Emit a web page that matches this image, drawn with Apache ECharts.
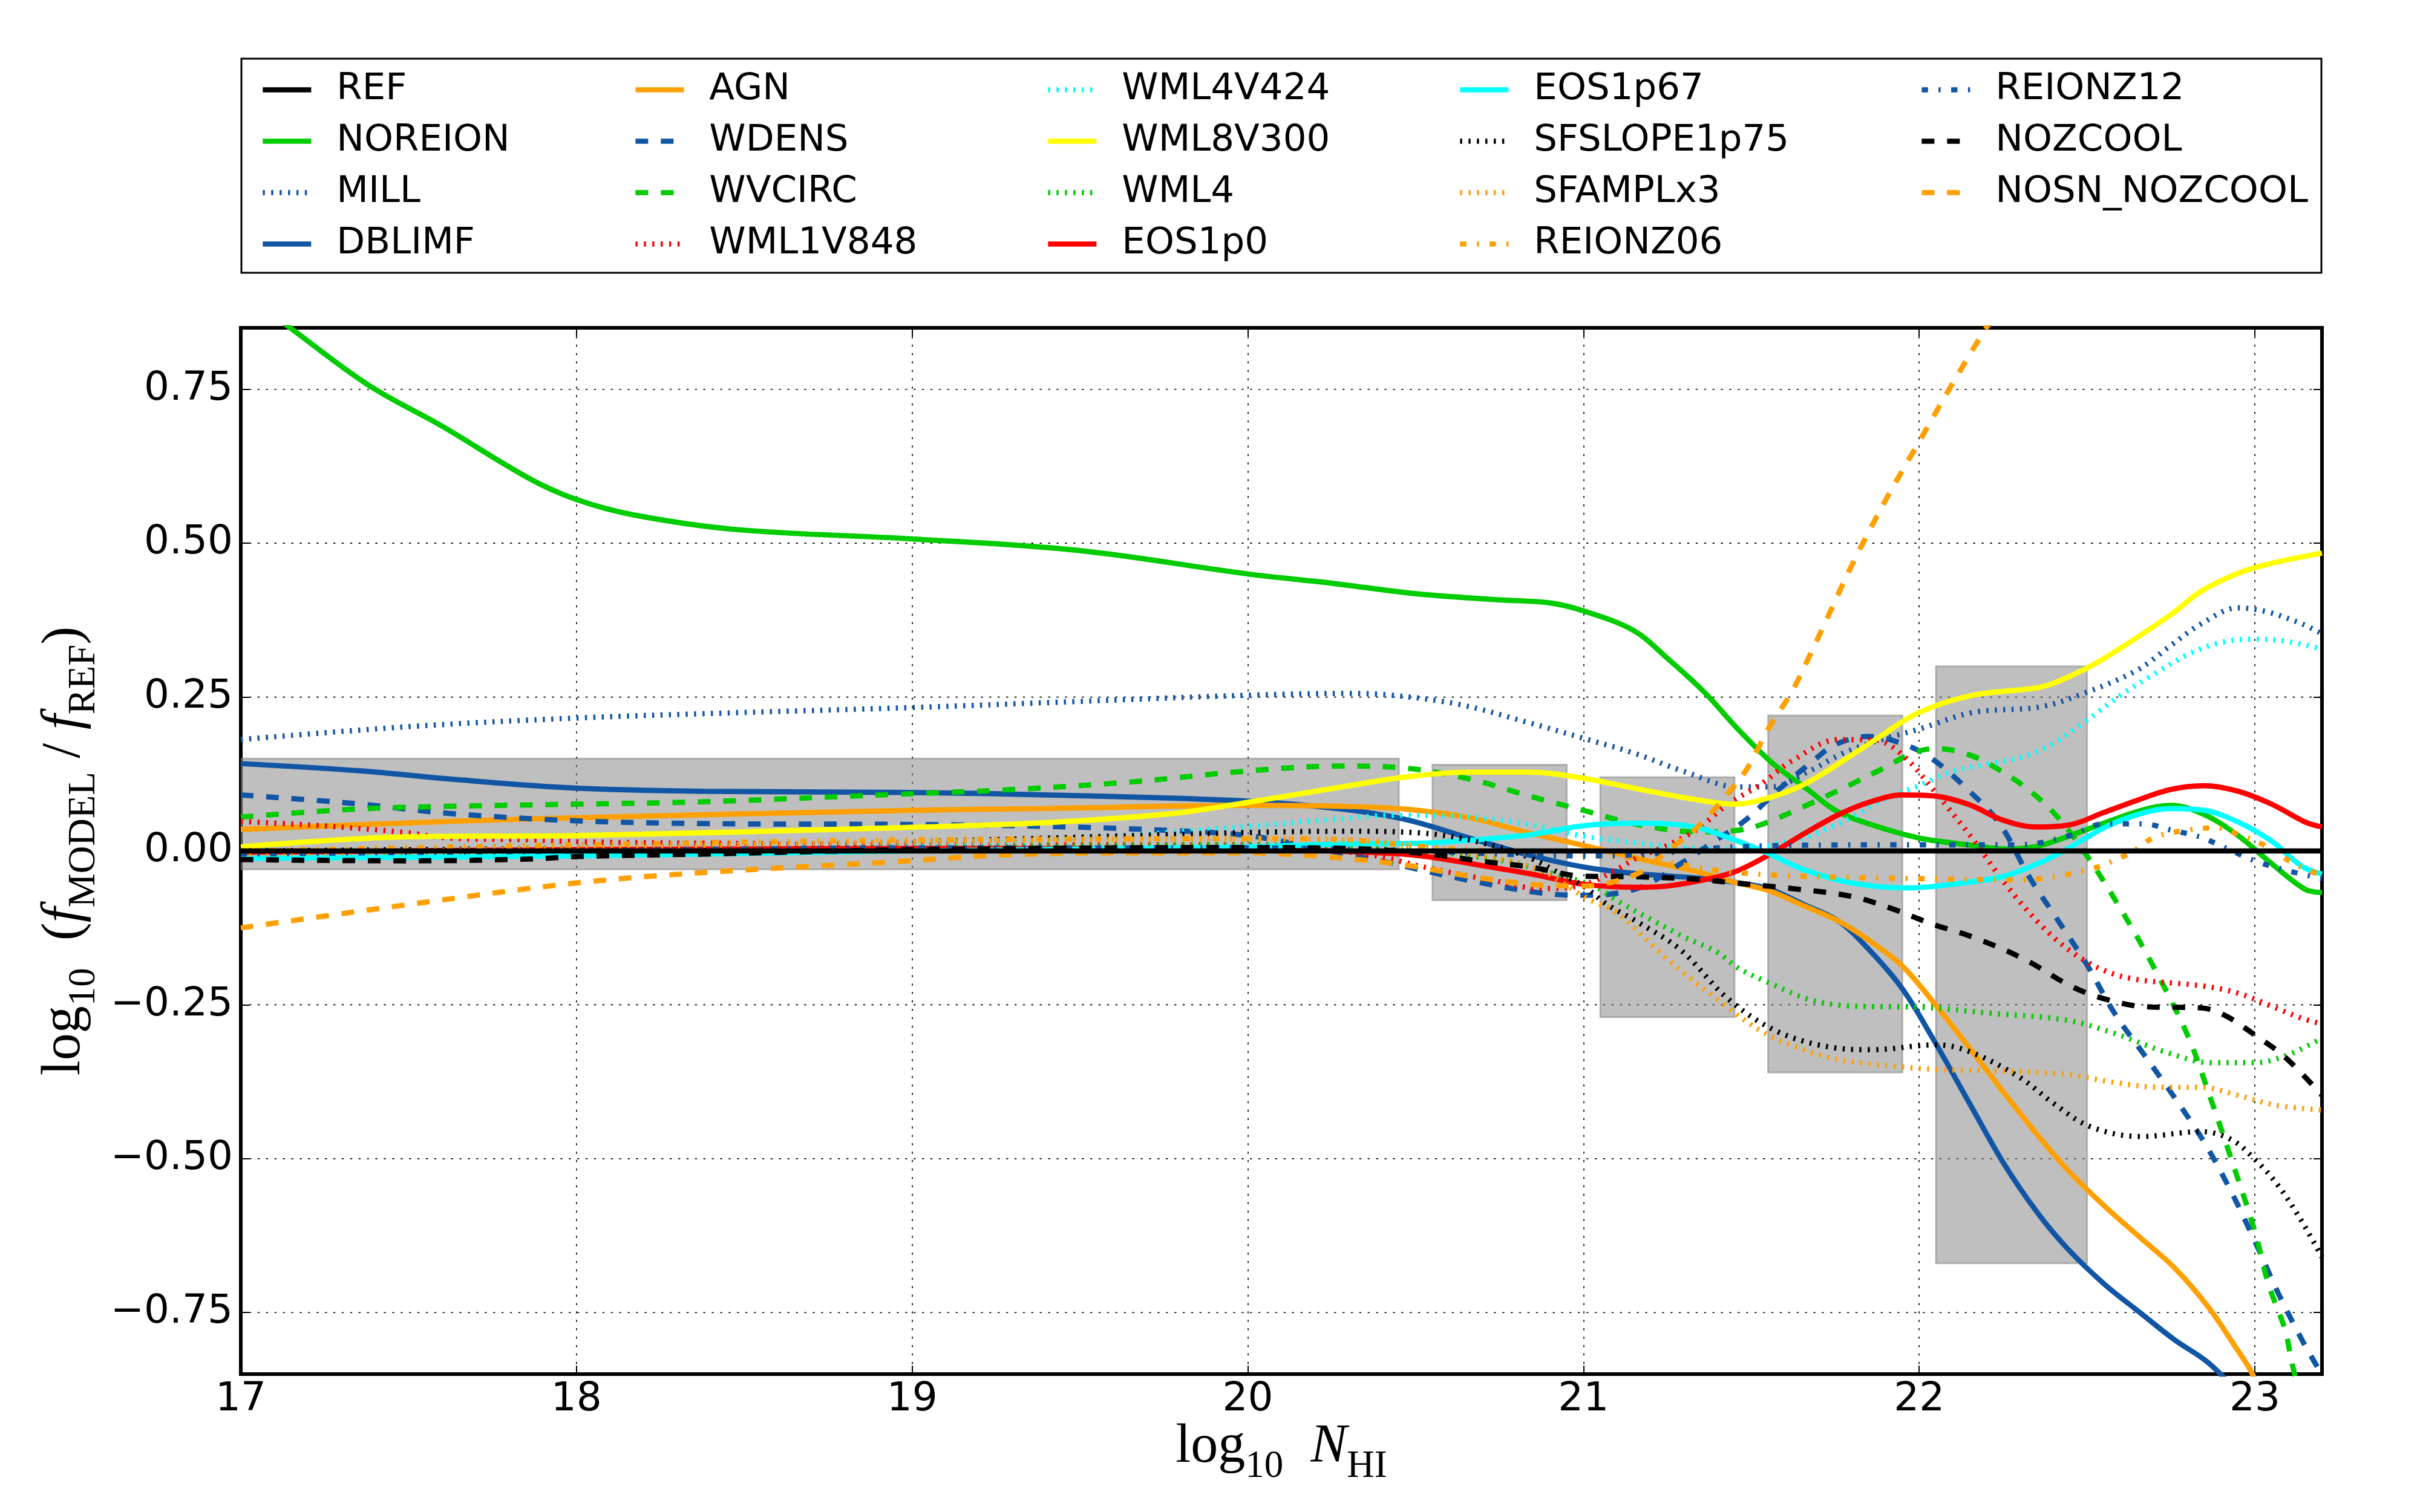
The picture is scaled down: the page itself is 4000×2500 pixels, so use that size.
<!DOCTYPE html>
<html>
<head>
<meta charset="utf-8">
<title>log10 f_MODEL / f_REF</title>
<script src="https://cdn.jsdelivr.net/npm/echarts@6.0.0/dist/echarts.min.js"></script>
<style>html,body{margin:0;background:#fff;}</style>
</head>
<body>
<div id="main" style="width:4000px;height:2500px;"></div>
<script>
// ---- data: [log10 N_HI, log10 f_MODEL/f_REF] ----
var xTicks = [17, 18, 19, 20, 21, 22, 23];
var yTicks = [-0.75, -0.5, -0.25, 0, 0.25, 0.5, 0.75];

// shaded boxes
var boxX0 = [17, 20.55, 21.05, 21.55, 22.05];
var boxX1 = [20.45, 20.95, 21.45, 21.95, 22.5];
var boxLo = [-0.03, -0.08, -0.27, -0.36, -0.67];
var boxHi = [0.15, 0.14, 0.12, 0.22, 0.30];

var REF = [[17, 0], [23.2, 0]];
var NOREION = [[17,0.91],[17.14,0.853],[17.38,0.757],[17.6,0.69],[17.86,0.605],[18,0.571],[18.17,0.546],[18.48,0.522],[19,0.507],[19.5,0.488],[20,0.45],[20.25,0.435],[20.5,0.418],[20.75,0.408],[20.9,0.403],[21,0.39],[21.15,0.358],[21.25,0.313],[21.36,0.258],[21.46,0.198],[21.56,0.144],[21.67,0.099],[21.75,0.066],[21.85,0.044],[22,0.021],[22.16,0.009],[22.26,0.003],[22.35,0.0075],[22.45,0.025],[22.65,0.064],[22.75,0.074],[22.85,0.059],[22.95,0.025],[23.04,-0.016],[23.15,-0.0625],[23.2,-0.0675]];
var MILL = [[17,0.181],[17.5,0.202],[18,0.216],[18.5,0.225],[19,0.233],[19.5,0.243],[20,0.253],[20.3,0.256],[20.43,0.253],[20.63,0.238],[20.84,0.208],[21,0.183],[21.15,0.159],[21.3,0.129],[21.46,0.104],[21.56,0.104],[21.67,0.129],[21.77,0.158],[21.87,0.178],[22,0.198],[22.16,0.225],[22.36,0.234],[22.49,0.256],[22.65,0.294],[22.75,0.334],[22.84,0.369],[22.95,0.395],[23.04,0.388],[23.14,0.369],[23.2,0.353]];
var DBLIMF = [[17,0.142],[17.36,0.13],[17.62,0.117],[18,0.102],[18.38,0.097],[19,0.095],[19.4,0.091],[20,0.081],[20.28,0.068],[20.47,0.051],[20.66,0.021],[20.84,-0.007],[21,-0.026],[21.16,-0.037],[21.34,-0.044],[21.45,-0.051],[21.55,-0.061],[21.66,-0.088],[21.76,-0.114],[21.85,-0.16],[21.95,-0.224],[22.04,-0.304],[22.15,-0.41],[22.25,-0.506],[22.35,-0.586],[22.44,-0.645],[22.55,-0.703],[22.66,-0.751],[22.76,-0.794],[22.86,-0.831],[22.95,-0.88]];
var AGN = [[17,0.035],[17.62,0.048],[18,0.054],[19,0.066],[19.4,0.069],[20,0.074],[20.28,0.0725],[20.47,0.068],[20.66,0.054],[20.84,0.029],[21,0.009],[21.16,-0.012],[21.34,-0.034],[21.45,-0.051],[21.55,-0.064],[21.66,-0.09],[21.76,-0.114],[21.85,-0.145],[21.95,-0.187],[22.05,-0.251],[22.15,-0.32],[22.24,-0.384],[22.34,-0.453],[22.44,-0.517],[22.55,-0.576],[22.66,-0.629],[22.76,-0.677],[22.86,-0.74],[22.94,-0.804],[22.99,-0.847],[23.05,-0.92]];
var WDENS = [[17,0.091],[17.34,0.077],[17.62,0.061],[18,0.049],[18.38,0.0445],[19,0.043],[19.4,0.04],[19.78,0.033],[20,0.025],[20.2,0.005],[20.41,-0.018],[20.66,-0.048],[20.87,-0.068],[21,-0.072],[21.16,-0.061],[21.3,-0.017],[21.39,0.016],[21.48,0.049],[21.58,0.099],[21.69,0.149],[21.75,0.173],[21.85,0.186],[21.93,0.178],[22.03,0.153],[22.15,0.097],[22.24,0.044],[22.33,-0.044],[22.41,-0.11],[22.5,-0.185],[22.58,-0.262],[22.67,-0.331],[22.76,-0.4],[22.85,-0.474],[22.93,-0.554],[23,-0.634],[23.07,-0.719],[23.14,-0.794],[23.19,-0.842],[23.25,-0.9]];
var WVCIRC = [[17,0.055],[17.34,0.068],[17.62,0.0725],[18,0.076],[18.38,0.08],[18.95,0.092],[19.27,0.099],[19.65,0.112],[20,0.13],[20.27,0.138],[20.46,0.135],[20.66,0.117],[20.84,0.089],[21,0.066],[21.16,0.043],[21.34,0.031],[21.45,0.033],[21.53,0.043],[21.66,0.073],[21.8,0.109],[21.87,0.128],[22,0.1625],[22.06,0.166],[22.15,0.156],[22.22,0.1375],[22.31,0.106],[22.4,0.0625],[22.49,0],[22.6,-0.094],[22.7,-0.19],[22.8,-0.3],[22.87,-0.405],[22.94,-0.517],[23,-0.618],[23.04,-0.703],[23.09,-0.778],[23.11,-0.831],[23.15,-0.92]];
var WML1V848 = [[17,0.048],[17.24,0.041],[17.49,0.03],[17.62,0.021],[17.87,0.018],[18,0.015],[18.5,0.012],[19,0.01],[19.5,0.01],[20,0.01],[20.35,-0.005],[20.54,-0.028],[20.73,-0.048],[20.87,-0.061],[21,-0.055],[21.1,-0.03],[21.16,-0.011],[21.25,0.009],[21.34,0.036],[21.43,0.076],[21.53,0.109],[21.62,0.146],[21.76,0.181],[21.87,0.18],[21.95,0.156],[22.05,0.094],[22.16,0.019],[22.26,-0.056],[22.36,-0.119],[22.45,-0.1625],[22.55,-0.194],[22.65,-0.209],[22.84,-0.219],[22.95,-0.231],[23.04,-0.25],[23.14,-0.272],[23.2,-0.281]];
var WML4V424 = [[17,-0.01],[18,0],[19,0.01],[19.5,0.02],[20,0.04],[20.25,0.051],[20.45,0.058],[20.6,0.057],[20.7,0.053],[20.84,0.043],[21,0.024],[21.16,0.013],[21.34,0.004],[21.45,0.003],[21.62,0.016],[21.7,0.03],[21.8,0.055],[21.9,0.085],[22,0.106],[22.09,0.128],[22.19,0.14],[22.31,0.153],[22.4,0.175],[22.5,0.2125],[22.6,0.253],[22.7,0.2875],[22.8,0.319],[22.89,0.3375],[22.99,0.344],[23.09,0.341],[23.2,0.328]];
var WML8V300 = [[17,0.0066],[17.49,0.023],[18,0.025],[18.97,0.038],[19.4,0.046],[19.78,0.061],[20,0.079],[20.28,0.104],[20.47,0.12],[20.66,0.128],[20.84,0.128],[21,0.118],[21.16,0.101],[21.34,0.083],[21.45,0.076],[21.55,0.086],[21.66,0.109],[21.8,0.156],[21.87,0.181],[22,0.225],[22.16,0.253],[22.36,0.266],[22.45,0.284],[22.55,0.3125],[22.75,0.384],[22.84,0.422],[22.95,0.451],[23.04,0.466],[23.2,0.484]];
var WML4 = [[17,-0.005],[18,0],[19,0.005],[20,0.01],[20.5,0],[20.75,-0.015],[20.9,-0.035],[21.03,-0.057],[21.11,-0.084],[21.2,-0.111],[21.3,-0.14],[21.4,-0.165],[21.46,-0.19],[21.56,-0.216],[21.67,-0.241],[21.77,-0.251],[21.87,-0.253],[22,-0.254],[22.22,-0.264],[22.44,-0.275],[22.58,-0.296],[22.73,-0.326],[22.87,-0.344],[23,-0.344],[23.1,-0.331],[23.2,-0.304]];
var EOS1p0 = [[17,-0.002],[18,0.002],[19,0.004],[20,0.003],[20.25,0],[20.5,-0.007],[20.7,-0.024],[20.84,-0.037],[21,-0.054],[21.16,-0.059],[21.25,-0.057],[21.34,-0.049],[21.45,-0.034],[21.55,-0.007],[21.66,0.029],[21.76,0.059],[21.85,0.079],[21.95,0.091],[22.05,0.089],[22.15,0.075],[22.25,0.05],[22.35,0.039],[22.45,0.0425],[22.55,0.0625],[22.65,0.0825],[22.75,0.1],[22.85,0.106],[22.95,0.097],[23.05,0.076],[23.15,0.047],[23.2,0.039]];
var EOS1p67 = [[17,-0.012],[18,-0.008],[19,0],[20,0.0066],[20.28,0.0115],[20.52,0.0127],[20.7,0.019],[20.85,0.027],[21,0.041],[21.16,0.045],[21.25,0.044],[21.34,0.038],[21.45,0.018],[21.55,-0.004],[21.66,-0.031],[21.8,-0.052],[21.96,-0.06],[22.16,-0.05],[22.26,-0.04],[22.36,-0.019],[22.45,0.006],[22.55,0.0375],[22.65,0.059],[22.75,0.069],[22.85,0.066],[22.95,0.047],[23.05,0.016],[23.14,-0.025],[23.2,-0.0375]];
var SFSLOPE1p75 = [[17,0],[18,0.005],[19,0.015],[20,0.03],[20.3,0.032],[20.52,0.029],[20.7,0.013],[20.84,-0.011],[20.93,-0.037],[21,-0.057],[21.07,-0.087],[21.16,-0.115],[21.29,-0.161],[21.43,-0.24],[21.58,-0.294],[21.75,-0.32],[21.86,-0.323],[22.05,-0.315],[22.15,-0.326],[22.3,-0.368],[22.4,-0.41],[22.51,-0.448],[22.66,-0.464],[22.84,-0.456],[22.93,-0.469],[23,-0.501],[23.07,-0.544],[23.14,-0.602],[23.2,-0.66]];
var SFAMPLx3 = [[17,-0.005],[18,0.005],[19,0.015],[20,0.02],[20.3,0.018],[20.5,0.008],[20.7,-0.008],[20.87,-0.031],[21.01,-0.077],[21.1,-0.101],[21.25,-0.176],[21.41,-0.246],[21.54,-0.296],[21.67,-0.326],[21.77,-0.34],[21.93,-0.35],[22.05,-0.355],[22.22,-0.357],[22.44,-0.363],[22.58,-0.376],[22.72,-0.384],[22.84,-0.384],[22.95,-0.397],[23.06,-0.413],[23.2,-0.421]];
var REIONZ06 = [[17,0],[18,0.01],[19,0.018],[20,0.02],[20.3,0.018],[20.5,0.008],[20.8,-0.003],[21,-0.007],[21.2,-0.014],[21.4,-0.032],[21.6,-0.04],[21.8,-0.043],[22,-0.045],[22.3,-0.047],[22.5,-0.031],[22.63,-0.003],[22.7,0.022],[22.8,0.034],[22.88,0.0375],[22.96,0.025],[23.04,0.006],[23.12,-0.022],[23.2,-0.04]];
var REIONZ12 = [[17,-0.005],[18,0],[19,0.005],[20,0.005],[20.5,0],[20.8,-0.006],[21,-0.008],[21.2,-0.005],[21.4,0.005],[21.6,0.009],[22,0.01],[22.3,0.01],[22.45,0.025],[22.55,0.044],[22.67,0.044],[22.75,0.034],[22.84,0.022],[22.92,0.003],[23,-0.016],[23.09,-0.031],[23.2,-0.045]];
var NOZCOOL = [[17,-0.014],[17.5,-0.016],[17.87,-0.013],[18,-0.009],[18.38,-0.005],[19,0.002],[20,0.0056],[20.35,0.003],[20.54,-0.005],[20.7,-0.017],[20.84,-0.026],[21,-0.041],[21.16,-0.042],[21.34,-0.046],[21.45,-0.052],[21.62,-0.061],[21.8,-0.074],[21.92,-0.094],[22.04,-0.119],[22.16,-0.14],[22.31,-0.175],[22.45,-0.219],[22.55,-0.24],[22.67,-0.253],[22.84,-0.255],[22.91,-0.267],[23,-0.299],[23.09,-0.335],[23.2,-0.397]];
var NOSN_NOZCOOL = [[17,-0.125],[17.5,-0.087],[18,-0.052],[18.38,-0.035],[18.95,-0.0175],[19.27,-0.0066],[19.65,-0.003],[20,-0.003],[20.16,-0.0066],[20.28,-0.0115],[20.47,-0.023],[20.66,-0.041],[20.84,-0.054],[21,-0.057],[21.16,-0.037],[21.25,0],[21.34,0.039],[21.43,0.093],[21.49,0.136],[21.55,0.198],[21.62,0.258],[21.67,0.313],[21.73,0.383],[21.8,0.465],[21.9,0.57],[22,0.665],[22.1,0.76],[22.2,0.85],[22.3,0.93]];

// legend columns, as in the figure
var legendColumns = [
  ['REF', 'NOREION', 'MILL', 'DBLIMF'],
  ['AGN', 'WDENS', 'WVCIRC', 'WML1V848'],
  ['WML4V424', 'WML8V300', 'WML4', 'EOS1p0'],
  ['EOS1p67', 'SFSLOPE1p75', 'SFAMPLx3', 'REIONZ06'],
  ['REIONZ12', 'NOZCOOL', 'NOSN_NOZCOOL']
];
</script>
<script>
var chart = echarts.init(document.getElementById('main'), null, {renderer: 'canvas'});

var BLACK = '#000000', GREEN = '#00cc00', BLUE = '#1155a5', ORANGE = '#ffa000',
    RED = '#ff0000', CYAN = '#00ffff', YELLOW = '#ffff00';
var SOLID = 'solid', DASHED = [21, 21], DOTTED = [3.5, 10.4], DASHDOT = [10.4, 17.4, 3.5, 17.4];
var LW = 8.7;

// name, data, colour, dash
var curves = [
  ['NOREION', NOREION, GREEN, SOLID],
  ['MILL', MILL, BLUE, DOTTED],
  ['DBLIMF', DBLIMF, BLUE, SOLID],
  ['AGN', AGN, ORANGE, SOLID],
  ['WDENS', WDENS, BLUE, DASHED],
  ['WVCIRC', WVCIRC, GREEN, DASHED],
  ['WML1V848', WML1V848, RED, DOTTED],
  ['WML4V424', WML4V424, CYAN, DOTTED],
  ['WML8V300', WML8V300, YELLOW, SOLID],
  ['WML4', WML4, GREEN, DOTTED],
  ['EOS1p0', EOS1p0, RED, SOLID],
  ['EOS1p67', EOS1p67, CYAN, SOLID],
  ['SFSLOPE1p75', SFSLOPE1p75, BLACK, DOTTED],
  ['SFAMPLx3', SFAMPLx3, ORANGE, DOTTED],
  ['REIONZ06', REIONZ06, ORANGE, DASHDOT],
  ['REIONZ12', REIONZ12, BLUE, DASHDOT],
  ['NOZCOOL', NOZCOOL, BLACK, DASHED],
  ['NOSN_NOZCOOL', NOSN_NOZCOOL, ORANGE, DASHED],
  ['REF', REF, BLACK, SOLID]
];

var series = [];

// horizontal dotted grid lines (at the tick values)
yTicks.forEach(function (y) {
  series.push({
    type: 'line', data: [[17, y], [23.2, y]], symbol: 'none', silent: true, z: 1,
    lineStyle: {color: '#000', width: 1.7, type: DOTTED}
  });
});

// shaded boxes
series.push({
  type: 'custom', z: 2, silent: true, clip: true,
  data: boxX0.map(function (x0, i) { return [x0, boxX1[i], boxLo[i], boxHi[i]]; }),
  encode: {x: [0, 1], y: [2, 3]},
  renderItem: function (params, api) {
    var a = api.coord([api.value(0), api.value(3)]);
    var b = api.coord([api.value(1), api.value(2)]);
    return {
      type: 'rect',
      shape: {x: a[0], y: a[1], width: b[0] - a[0], height: b[1] - a[1]},
      style: {fill: 'rgba(128,128,128,0.5)', stroke: 'rgba(128,128,128,0.5)', lineWidth: 3}
    };
  }
});

curves.forEach(function (c) {
  series.push({
    name: c[0], type: 'line', data: c[1],
    symbol: 'none', showSymbol: false, smooth: 0.35,
    silent: true, z: c[0] === 'REF' ? 4 : 3,
    lineStyle: {color: c[2], width: LW, type: c[3], cap: 'butt'},
    itemStyle: {color: c[2]},
    emphasis: {disabled: true}
  });
});

var legendLeft = [430, 1046, 1728, 2409, 3172];
var legends = legendColumns.map(function (col, i) {
  return {
    orient: 'vertical', left: legendLeft[i], top: 118, padding: 0,
    itemWidth: 80, itemHeight: 61, itemGap: 24, selectedMode: false,
    itemStyle: {opacity: 0},
    lineStyle: {width: LW},
    textStyle: {fontFamily: 'DejaVu Sans', fontSize: 61, lineHeight: 61, color: '#000', padding: [0, 0, 0, 37]},
    data: col
  };
});

function yFmt(v) {
  return (v < 0 ? '\u2212' : '') + Math.abs(v).toFixed(2);
}

var tickFont = {fontFamily: 'DejaVu Sans', fontSize: 66, color: '#000'};
var spine = {show: true, onZero: false, lineStyle: {color: '#000', width: 6, cap: 'square'}};
var tick = {show: true, inside: true, length: 14, lineStyle: {color: '#000', width: 2}};

var mathRich = {
  n: {fontFamily: 'Liberation Serif', fontSize: 90, lineHeight: 90, color: '#000', verticalAlign: 'middle'},
  i: {fontFamily: 'Liberation Serif', fontSize: 90, lineHeight: 90, fontStyle: 'italic', color: '#000', verticalAlign: 'middle'},
  s: {fontFamily: 'Liberation Serif', fontSize: 63, lineHeight: 63, padding: [64, 0, 0, 0], color: '#000', verticalAlign: 'middle'}
};

chart.setOption({
  animation: false,
  backgroundColor: '#ffffff',
  grid: {left: 398, right: 162, top: 542, bottom: 228},
  legend: legends,
  xAxis: [{
    type: 'value', min: 17, max: 23.2, interval: 1, position: 'bottom',
    axisLine: spine,
    axisTick: Object.assign({customValues: xTicks}, tick),
    axisLabel: Object.assign({customValues: xTicks, margin: 10}, tickFont),
    splitLine: {show: true, lineStyle: {color: '#000', width: 1.7, type: DOTTED}}
  }, {
    type: 'value', min: 17, max: 23.2, interval: 1, position: 'top',
    axisLine: spine,
    axisTick: Object.assign({customValues: xTicks}, tick),
    axisLabel: {show: false}, splitLine: {show: false}
  }],
  yAxis: [{
    type: 'value', min: -0.85, max: 0.85, position: 'left',
    axisLine: spine,
    axisTick: Object.assign({customValues: yTicks}, tick),
    axisLabel: Object.assign({customValues: yTicks, margin: 13, formatter: yFmt}, tickFont),
    splitLine: {show: false}
  }, {
    type: 'value', min: -0.85, max: 0.85, position: 'right',
    axisLine: spine,
    axisTick: Object.assign({customValues: yTicks}, tick),
    axisLabel: {show: false}, splitLine: {show: false}
  }],
  graphic: [
    {type: 'rect', silent: true, z: 10,
      shape: {x: 399, y: 97, width: 3438, height: 354},
      style: {fill: 'none', stroke: '#000', lineWidth: 3}},
    {type: 'text', silent: true, x: 2118, y: 2393,
      style: {text: '{n|log}{s|10}{n|  }{i|N}{s|HI}', rich: mathRich, align: 'center', verticalAlign: 'middle'}},
    {type: 'text', silent: true, x: 107, y: 1407, rotation: Math.PI / 2,
      style: {text: '{n|log}{s|10}{n|  (}{i|f}{s|MODEL}{n| / }{i|f}{s|REF}{n|)}', rich: mathRich, align: 'center', verticalAlign: 'middle'}}
  ],
  series: series
});
</script>
</body>
</html>
